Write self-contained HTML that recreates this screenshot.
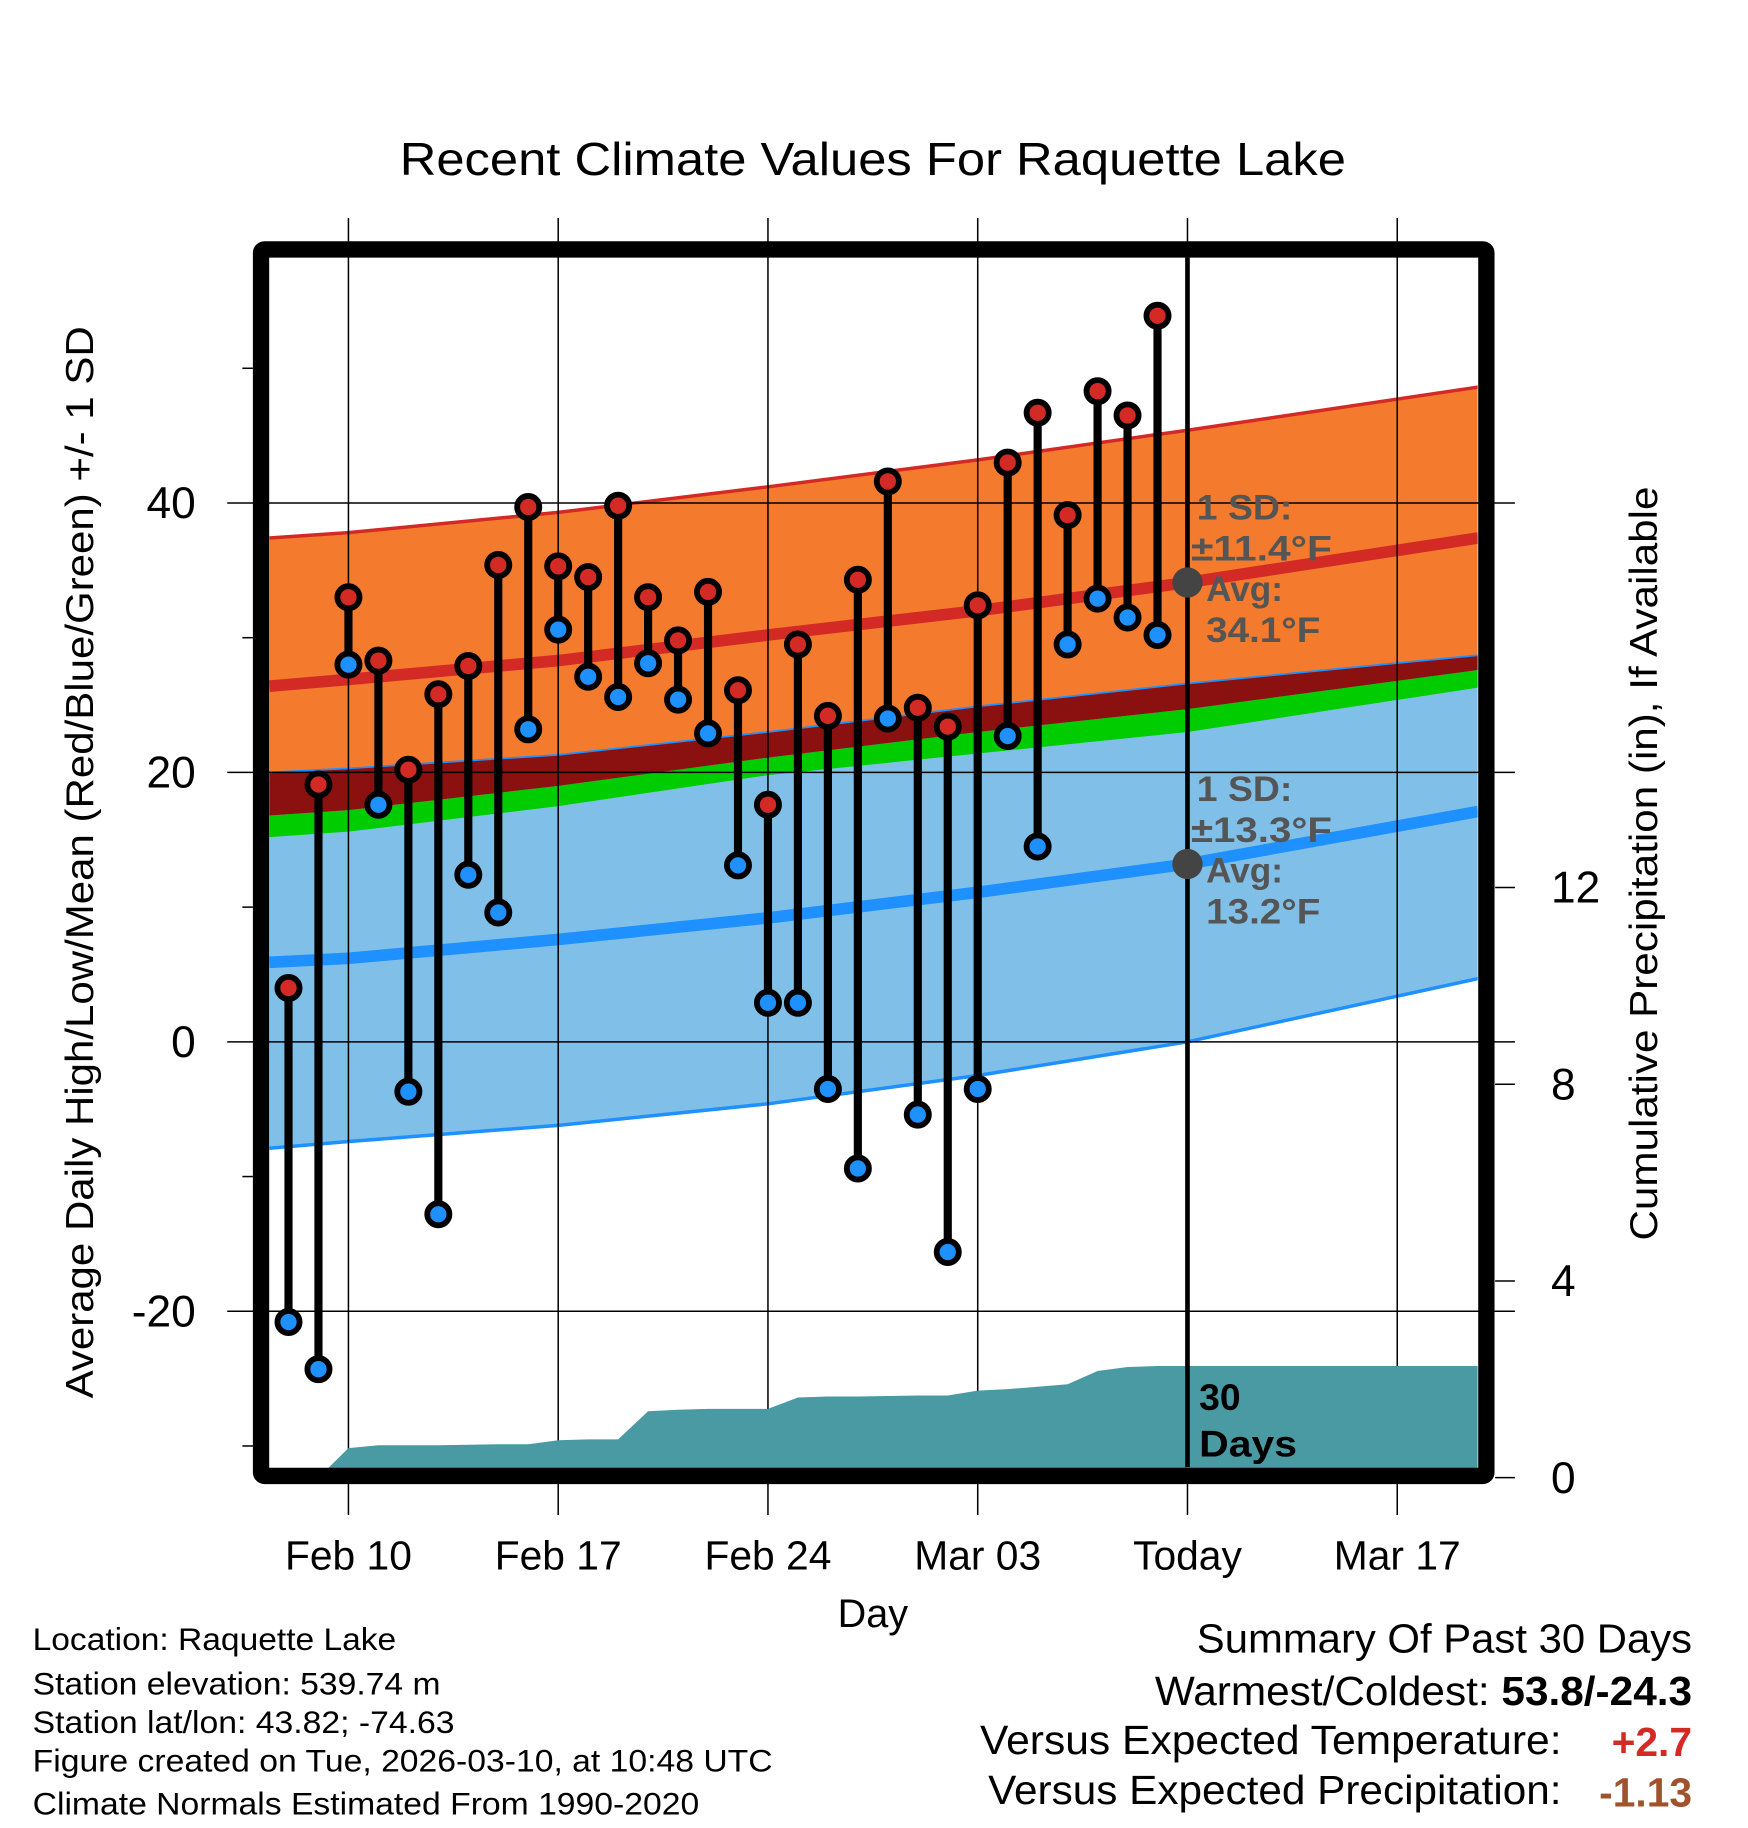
<!DOCTYPE html>
<html><head><meta charset="utf-8"><style>
html,body{margin:0;padding:0;background:#fff}
svg{display:block;font-family:"Liberation Sans",sans-serif}
</style></head><body>
<svg id="chart" width="1748" height="1828" viewBox="0 0 1500 1568.6" xmlns="http://www.w3.org/2000/svg">
<text x="749" y="150" font-size="40" text-anchor="middle" textLength="812" lengthAdjust="spacingAndGlyphs">Recent Climate Values For Raquette Lake</text>
<g id="bands"></g>
<g id="grid"></g>
<g id="precip"></g>
<g id="marks"></g>
<g id="frame"></g>
<g id="labels"></g>
<text transform="translate(80,740) rotate(-90)" font-size="33" text-anchor="middle" textLength="920" lengthAdjust="spacingAndGlyphs">Average Daily High/Low/Mean (Red/Blue/Green) +/- 1 SD</text>
<text transform="translate(1422,741) rotate(-90)" font-size="33" text-anchor="middle" textLength="647" lengthAdjust="spacingAndGlyphs">Cumulative Precipitation (in), If Available</text>
<text x="749" y="1396" font-size="34" text-anchor="middle">Day</text>
<g font-size="27">
<text x="28" y="1416" textLength="312" lengthAdjust="spacingAndGlyphs">Location: Raquette Lake</text>
<text x="28" y="1454" textLength="350" lengthAdjust="spacingAndGlyphs">Station elevation: 539.74 m</text>
<text x="28" y="1487" textLength="362" lengthAdjust="spacingAndGlyphs">Station lat/lon: 43.82; -74.63</text>
<text x="28" y="1520" textLength="635" lengthAdjust="spacingAndGlyphs">Figure created on Tue, 2026-03-10, at 10:48 UTC</text>
<text x="28" y="1557" textLength="572" lengthAdjust="spacingAndGlyphs">Climate Normals Estimated From 1990-2020</text>
</g>
<g font-size="35">
<text x="1027" y="1418" textLength="425" lengthAdjust="spacingAndGlyphs">Summary Of Past 30 Days</text>
<text x="991" y="1463" textLength="461" lengthAdjust="spacingAndGlyphs">Warmest/Coldest: <tspan font-weight="bold">53.8/-24.3</tspan></text>
<text x="841" y="1505" textLength="499" lengthAdjust="spacingAndGlyphs">Versus Expected Temperature:</text>
<text x="1452" y="1507" text-anchor="end" font-weight="bold" fill="#d42a26">+2.7</text>
<text x="848" y="1548" textLength="492" lengthAdjust="spacingAndGlyphs">Versus Expected Precipitation:</text>
<text x="1452" y="1550" text-anchor="end" font-weight="bold" fill="#a0522d">-1.13</text>
</g>
</svg>
<script>
const highs=[4,19.1,33,28.3,20.2,25.8,27.9,35.4,39.7,35.3,34.5,39.8,33,29.8,33.4,26.1,17.6,29.5,24.2,34.3,41.6,24.8,23.4,32.4,43,46.7,39.1,48.3,46.5,53.9];
const lows=[-20.8,-24.3,28,17.6,-3.7,-12.8,12.4,9.6,23.2,30.6,27.1,25.6,28.1,25.4,22.9,13.1,2.9,2.9,-3.5,-9.4,24,-5.4,-15.6,-3.5,22.7,14.5,29.5,32.9,31.5,30.2];
const precip=[0,0,0.6,0.66,0.66,0.66,0.67,0.68,0.68,0.76,0.78,0.78,1.35,1.38,1.4,1.4,1.4,1.63,1.65,1.65,1.66,1.67,1.67,1.77,1.8,1.85,1.9,2.17,2.25,2.27,2.27];
const normDays=[-2.64,0,7,14,21,28,37.7];
const orangeTop=[37.4,37.8,39.3,41.2,43.2,45.4,48.6];
const highMean=[26.4,26.9,28.3,30.2,32.0,34.1,37.4];
const orangeBottom=[20.0,20.3,21.3,23.0,24.9,26.6,28.7];
const greenTop=[16.8,17.2,19.0,21.1,23.0,24.7,27.6];
const greenBottom=[15.2,15.6,17.5,19.8,21.4,23.0,26.3];
const lowMean=[5.9,6.2,7.6,9.2,11.1,13.2,17.1];
const lowBottom=[-7.9,-7.4,-6.2,-4.6,-2.5,0.0,4.7];
const yTicks=[40,20,0,-20];
const yMinor=[50,30,10,-10,-30];
const pTicks=[0,4,8,12];
const xTickDays=[0,7,14,21,28,35];
const xTickLabels=["Feb 10","Feb 17","Feb 24","Mar 03","Today","Mar 17"];
const firstDay=-2;
const L=231,R=1268,T=221,B=1259;
const X=d=>299+d*180/7;
const Y=v=>894-v*11.56;
const P=v=>1268-v*42.2;
const NS="http://www.w3.org/2000/svg";
function mk(tag,attrs,parent){const e=document.createElementNS(NS,tag);for(const k in attrs)e.setAttribute(k,attrs[k]);parent.appendChild(e);return e;}
function band(top,bot,color,name){
  let d="M"+normDays.map((t,i)=>X(t)+","+Y(top[i])).join(" L");
  for(let i=normDays.length-1;i>=0;i--)d+=" L"+X(normDays[i])+","+Y(bot[i]);
  const p=mk("path",{d:d+"Z",fill:color},bands);
  
  
}
function line(vals,color,w,name){
  const p=mk("path",{d:"M"+normDays.map((t,i)=>X(t)+","+Y(vals[i])).join(" L"),fill:"none",stroke:color,"stroke-width":w},bands);
  
  
}
const bands=document.getElementById("bands");
const clip=mk("clipPath",{id:"pc"},bands);mk("rect",{x:L,y:T,width:R-L,height:B-T},clip);
bands.setAttribute("clip-path","url(#pc)");
band(orangeBottom,lowBottom,"#80c0e8","low-sd-band");
band(greenTop,greenBottom,"#00cc00","mean-band");
band(orangeBottom,greenTop,"#8b1010","overlap-band");
band(orangeTop,orangeBottom,"#f47a2e","high-sd-band");
line(orangeTop,"#d42a26",3,"high-sd-upper-line");
line(orangeBottom,"#1e90ff",1.5,"high-sd-lower-line");
line(lowBottom,"#1e90ff",3,"low-sd-lower-line");
line(highMean,"#d42a26",10,"high-mean-line");
line(lowMean,"#1e90ff",10,"low-mean-line");
const grid=document.getElementById("grid");
xTickDays.forEach(d=>{const l=mk("line",{x1:X(d),x2:X(d),y1:187,y2:1300,stroke:"#000","stroke-width":1.3},grid);
});
yTicks.forEach(v=>{const l=mk("line",{x1:195,x2:1300,y1:Y(v),y2:Y(v),stroke:"#000","stroke-width":1.3},grid);
});
yMinor.forEach(v=>{const l=mk("line",{x1:208,x2:217,y1:Y(v),y2:Y(v),stroke:"#000","stroke-width":1.3},grid);
});
pTicks.forEach(v=>{const l=mk("line",{x1:1283,x2:1300,y1:P(v),y2:P(v),stroke:"#000","stroke-width":1.3},grid);
});
const pg=document.getElementById("precip");
let pd="M"+X(firstDay)+","+P(0);
precip.forEach((v,i)=>{pd+=" L"+X(firstDay+i)+","+P(v);});
pd+=" L"+R+","+P(precip[precip.length-1])+" L"+R+","+P(0)+"Z";
const pa=mk("path",{d:pd,fill:"#4a9aa4"},pg);

mk("line",{x1:X(28),x2:X(28),y1:T,y2:B,stroke:"#000","stroke-width":4},pg);
const marks=document.getElementById("marks");
highs.forEach((h,i)=>{
  const x=X(firstDay+i);
  const s=mk("line",{x1:x,x2:x,y1:Y(h),y2:Y(lows[i]),stroke:"#000","stroke-width":7},marks);
  
  const c1=mk("circle",{cx:x,cy:Y(h),r:9.5,fill:"#d42a26",stroke:"#000","stroke-width":5},marks);
  
  const c2=mk("circle",{cx:x,cy:Y(lows[i]),r:9.5,fill:"#1e90ff",stroke:"#000","stroke-width":5},marks);
  
});
const todayX=X(28);
[[highMean[5],"±11.4°F","34.1°F"],[lowMean[5],"±13.3°F","13.2°F"]].forEach(([v,sd,av])=>{
  const y=Y(v);
  const c=mk("circle",{cx:todayX,cy:y,r:13,fill:"#444"},marks);
  
  const g=mk("g",{"font-size":30,"font-weight":"bold",fill:"#555"},marks);
  
  mk("text",{x:todayX+8,y:y-54,textLength:82,lengthAdjust:"spacingAndGlyphs"},g).textContent="1 SD:";
  mk("text",{x:todayX+3,y:y-19,textLength:121,lengthAdjust:"spacingAndGlyphs"},g).textContent=sd;
  mk("text",{x:todayX+16,y:y+16,textLength:66,lengthAdjust:"spacingAndGlyphs"},g).textContent="Avg:";
  mk("text",{x:todayX+16,y:y+51,textLength:98,lengthAdjust:"spacingAndGlyphs"},g).textContent=av;
});
const dg=mk("g",{"font-size":32,"font-weight":"bold",fill:"#000"},marks);

mk("text",{x:todayX+10,y:1210},dg).textContent="30";
mk("text",{x:todayX+10,y:1250,textLength:84,lengthAdjust:"spacingAndGlyphs"},dg).textContent="Days";
const fr=document.getElementById("frame");
mk("rect",{x:224,y:214,width:1051.5,height:1052.5,fill:"none",stroke:"#000","stroke-width":14,rx:3},fr);
const lab=document.getElementById("labels");
yTicks.forEach(v=>{const t=mk("text",{x:168,y:Y(v)+13,"font-size":38,"text-anchor":"end"},lab);t.textContent=String(v);
});
pTicks.forEach(v=>{const t=mk("text",{x:1331,y:P(v)+13,"font-size":38},lab);t.textContent=String(v);
});
xTickDays.forEach((d,i)=>{const t=mk("text",{x:X(d),y:1347,"font-size":35,"text-anchor":"middle"},lab);t.textContent=xTickLabels[i];
});
</script>
</body></html>
